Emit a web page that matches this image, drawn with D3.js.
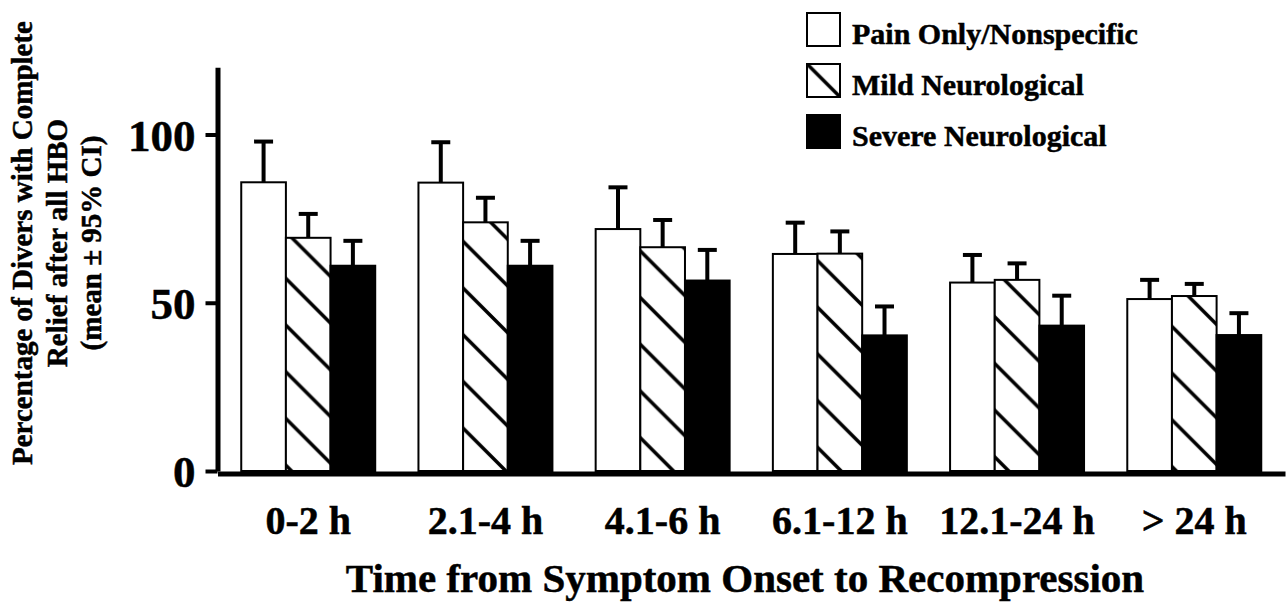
<!DOCTYPE html>
<html>
<head>
<meta charset="utf-8">
<script src="https://cdnjs.cloudflare.com/ajax/libs/d3/7.8.5/d3.min.js"></script>
<style>
  body { margin: 0; background: #fff; }
  svg text { font-family: "Liberation Serif", "Times New Roman", Times, serif; font-weight: bold; fill: #000; stroke: #000; stroke-width: 0.5px; }
</style>
</head>
<body>
<svg id="chart"></svg>
<script>
// data
let categories = ["0-2 h", "2.1-4 h", "4.1-6 h", "6.1-12 h", "12.1-24 h", "> 24 h"];
let seriesNames = ["Pain Only/Nonspecific", "Mild Neurological", "Severe Neurological"];
let painMean   = [85.8, 85.7, 71.9, 64.5, 56.0, 51.1];
let painUpper  = [97.9, 97.7, 84.3, 73.8, 64.2, 56.8];
let mildMean   = [69.3, 73.9, 66.5, 64.6, 56.8, 52.0];
let mildUpper  = [76.4, 81.2, 74.6, 71.2, 61.7, 55.6];
let severeMean = [61.0, 61.0, 56.6, 40.3, 43.2, 40.4];
let severeUpper= [68.4, 68.4, 65.7, 48.9, 52.1, 46.9];
let yTicks = [0, 50, 100];

// layout
var svgWidth = 1287, svgHeight = 603;
var axisX = 217.5, baseY = 471, rightX = 1285;
var hatchStep = 46.7;

var svg = d3.select("#chart")
  .attr("width", svgWidth)
  .attr("height", svgHeight);

svg.append("rect")
  .attr("width", svgWidth).attr("height", svgHeight)
  .attr("fill", "#fff");

var defs = svg.append("defs");

//build a table: one row per category
var rows = categories.map(function(c, i) {
  return {
    cat: c,
    bars: [
      {s: 0, mean: painMean[i], upper: painUpper[i]},
      {s: 1, mean: mildMean[i], upper: mildUpper[i]},
      {s: 2, mean: severeMean[i], upper: severeUpper[i]}
    ]
  };
});

var x0 = d3.scaleBand()
  .domain(categories)
  .range([axisX, rightX])
  .paddingInner(0.244)
  .paddingOuter(0.134);

var x1 = d3.scaleBand()
  .domain([0, 1, 2])
  .range([0, x0.bandwidth()]);

var y = d3.scaleLinear()
  .domain([0, 120])
  .range([baseY, baseY - 120 * 3.365]);

// diagonal hatching anchored at bottom-right corner of a box
function makeHatch(id, ox, oy) {
  var p = hatchStep, d = 4;
  var pat = defs.append("pattern")
    .attr("id", id)
    .attr("patternUnits", "userSpaceOnUse")
    .attr("x", ox).attr("y", oy)
    .attr("width", p).attr("height", p);
  pat.append("rect").attr("width", p).attr("height", p).attr("fill", "#fff");
  pat.append("path")
    .attr("d", "M" + (-d) + "," + (-d) + "L" + (p + d) + "," + (p + d) +
               "M" + (-d) + "," + (p - d) + "L" + d + "," + (p + d) +
               "M" + (p - d) + "," + (-d) + "L" + (p + d) + "," + d)
    .attr("stroke", "#000")
    .attr("stroke-width", 3.5);
  return "url(#" + id + ")";
}

function fillFor(s, id, ox, oy) {
  if (s === 0) return "#fff";
  if (s === 1) return makeHatch(id, ox, oy);
  return "#000";
}

// bars
var groups = svg.append("g").selectAll("g")
  .data(rows)
  .enter().append("g")
  .attr("transform", function(d) { return "translate(" + x0(d.cat) + ",0)"; });

groups.each(function(row, gi) {
  var g = d3.select(this);
  var gx = x0(row.cat);
  g.selectAll("rect")
    .data(row.bars)
    .enter().append("rect")
    .attr("x", function(b) { return x1(b.s); })
    .attr("y", function(b) { return y(b.mean); })
    .attr("width", x1.bandwidth())
    .attr("height", function(b) { return y(0) - y(b.mean); })
    .attr("fill", function(b) {
      return fillFor(b.s, "hatch" + gi, gx + x1(b.s) + x1.bandwidth(), y(0));
    })
    .attr("stroke", "#000")
    .attr("stroke-width", 2);

  // upper error bars
  g.selectAll("line.stem")
    .data(row.bars)
    .enter().append("line")
    .attr("class", "stem")
    .attr("x1", function(b) { return x1(b.s) + x1.bandwidth() / 2; })
    .attr("x2", function(b) { return x1(b.s) + x1.bandwidth() / 2; })
    .attr("y1", function(b) { return y(b.mean); })
    .attr("y2", function(b) { return y(b.upper); })
    .attr("stroke", "#000")
    .attr("stroke-width", 4);

  g.selectAll("line.cap")
    .data(row.bars)
    .enter().append("line")
    .attr("class", "cap")
    .attr("x1", function(b) { return x1(b.s) + x1.bandwidth() / 2 - 9.5; })
    .attr("x2", function(b) { return x1(b.s) + x1.bandwidth() / 2 + 9.5; })
    .attr("y1", function(b) { return y(b.upper); })
    .attr("y2", function(b) { return y(b.upper); })
    .attr("stroke", "#000")
    .attr("stroke-width", 4);
});

// y axis
var yAxis = svg.append("g")
  .attr("transform", "translate(" + axisX + ",0)")
  .call(d3.axisLeft(y).tickValues(yTicks).tickSize(12).tickSizeOuter(0).tickFormat(d3.format("d")));
yAxis.select(".domain").attr("stroke", "#000").attr("stroke-width", 5);
yAxis.selectAll(".tick line").attr("stroke", "#000").attr("stroke-width", 4);
yAxis.selectAll(".tick text")
  .attr("x", -22)
  .attr("dy", "0.35em")
  .style("font-size", "45px")
  .attr("text-anchor", "end");

// x axis
var xAxis = svg.append("g")
  .attr("transform", "translate(0," + (baseY + 2.5) + ")")
  .call(d3.axisBottom(x0).tickSize(0).tickSizeOuter(0));
xAxis.select(".domain").attr("stroke", "#000").attr("stroke-width", 5);
xAxis.selectAll(".tick text")
  .attr("y", 60)
  .attr("dy", 0)
  .style("font-size", "40px");

// axis titles
svg.append("text")
  .attr("x", 745).attr("y", 592)
  .attr("text-anchor", "middle")
  .style("font-size", "41px")
  .text("Time from Symptom Onset to Recompression");

var yTitle = ["Percentage of Divers with Complete", "Relief after all HBO", "(mean \u00b1 95% CI)"];
var yTitleX = [32, 67, 101];
yTitle.forEach(function(t, i) {
  svg.append("text")
    .attr("transform", "translate(" + yTitleX[i] + ",243) rotate(-90)")
    .attr("text-anchor", "middle")
    .style("font-size", "29px")
    .text(t);
});

// legend
var legend = svg.append("g").attr("transform", "translate(807,13)");
seriesNames.forEach(function(name, i) {
  var ly = i * 51;
  legend.append("rect")
    .attr("x", 0).attr("y", ly)
    .attr("width", 33).attr("height", 33)
    .attr("fill", fillFor(i, "hatchLegend", 807 + 33, 13 + ly + 33))
    .attr("stroke", "#000")
    .attr("stroke-width", 2);
  legend.append("text")
    .attr("x", 45).attr("y", ly + 31)
    .style("font-size", "30px")
    .text(name);
});
</script>
</body>
</html>
